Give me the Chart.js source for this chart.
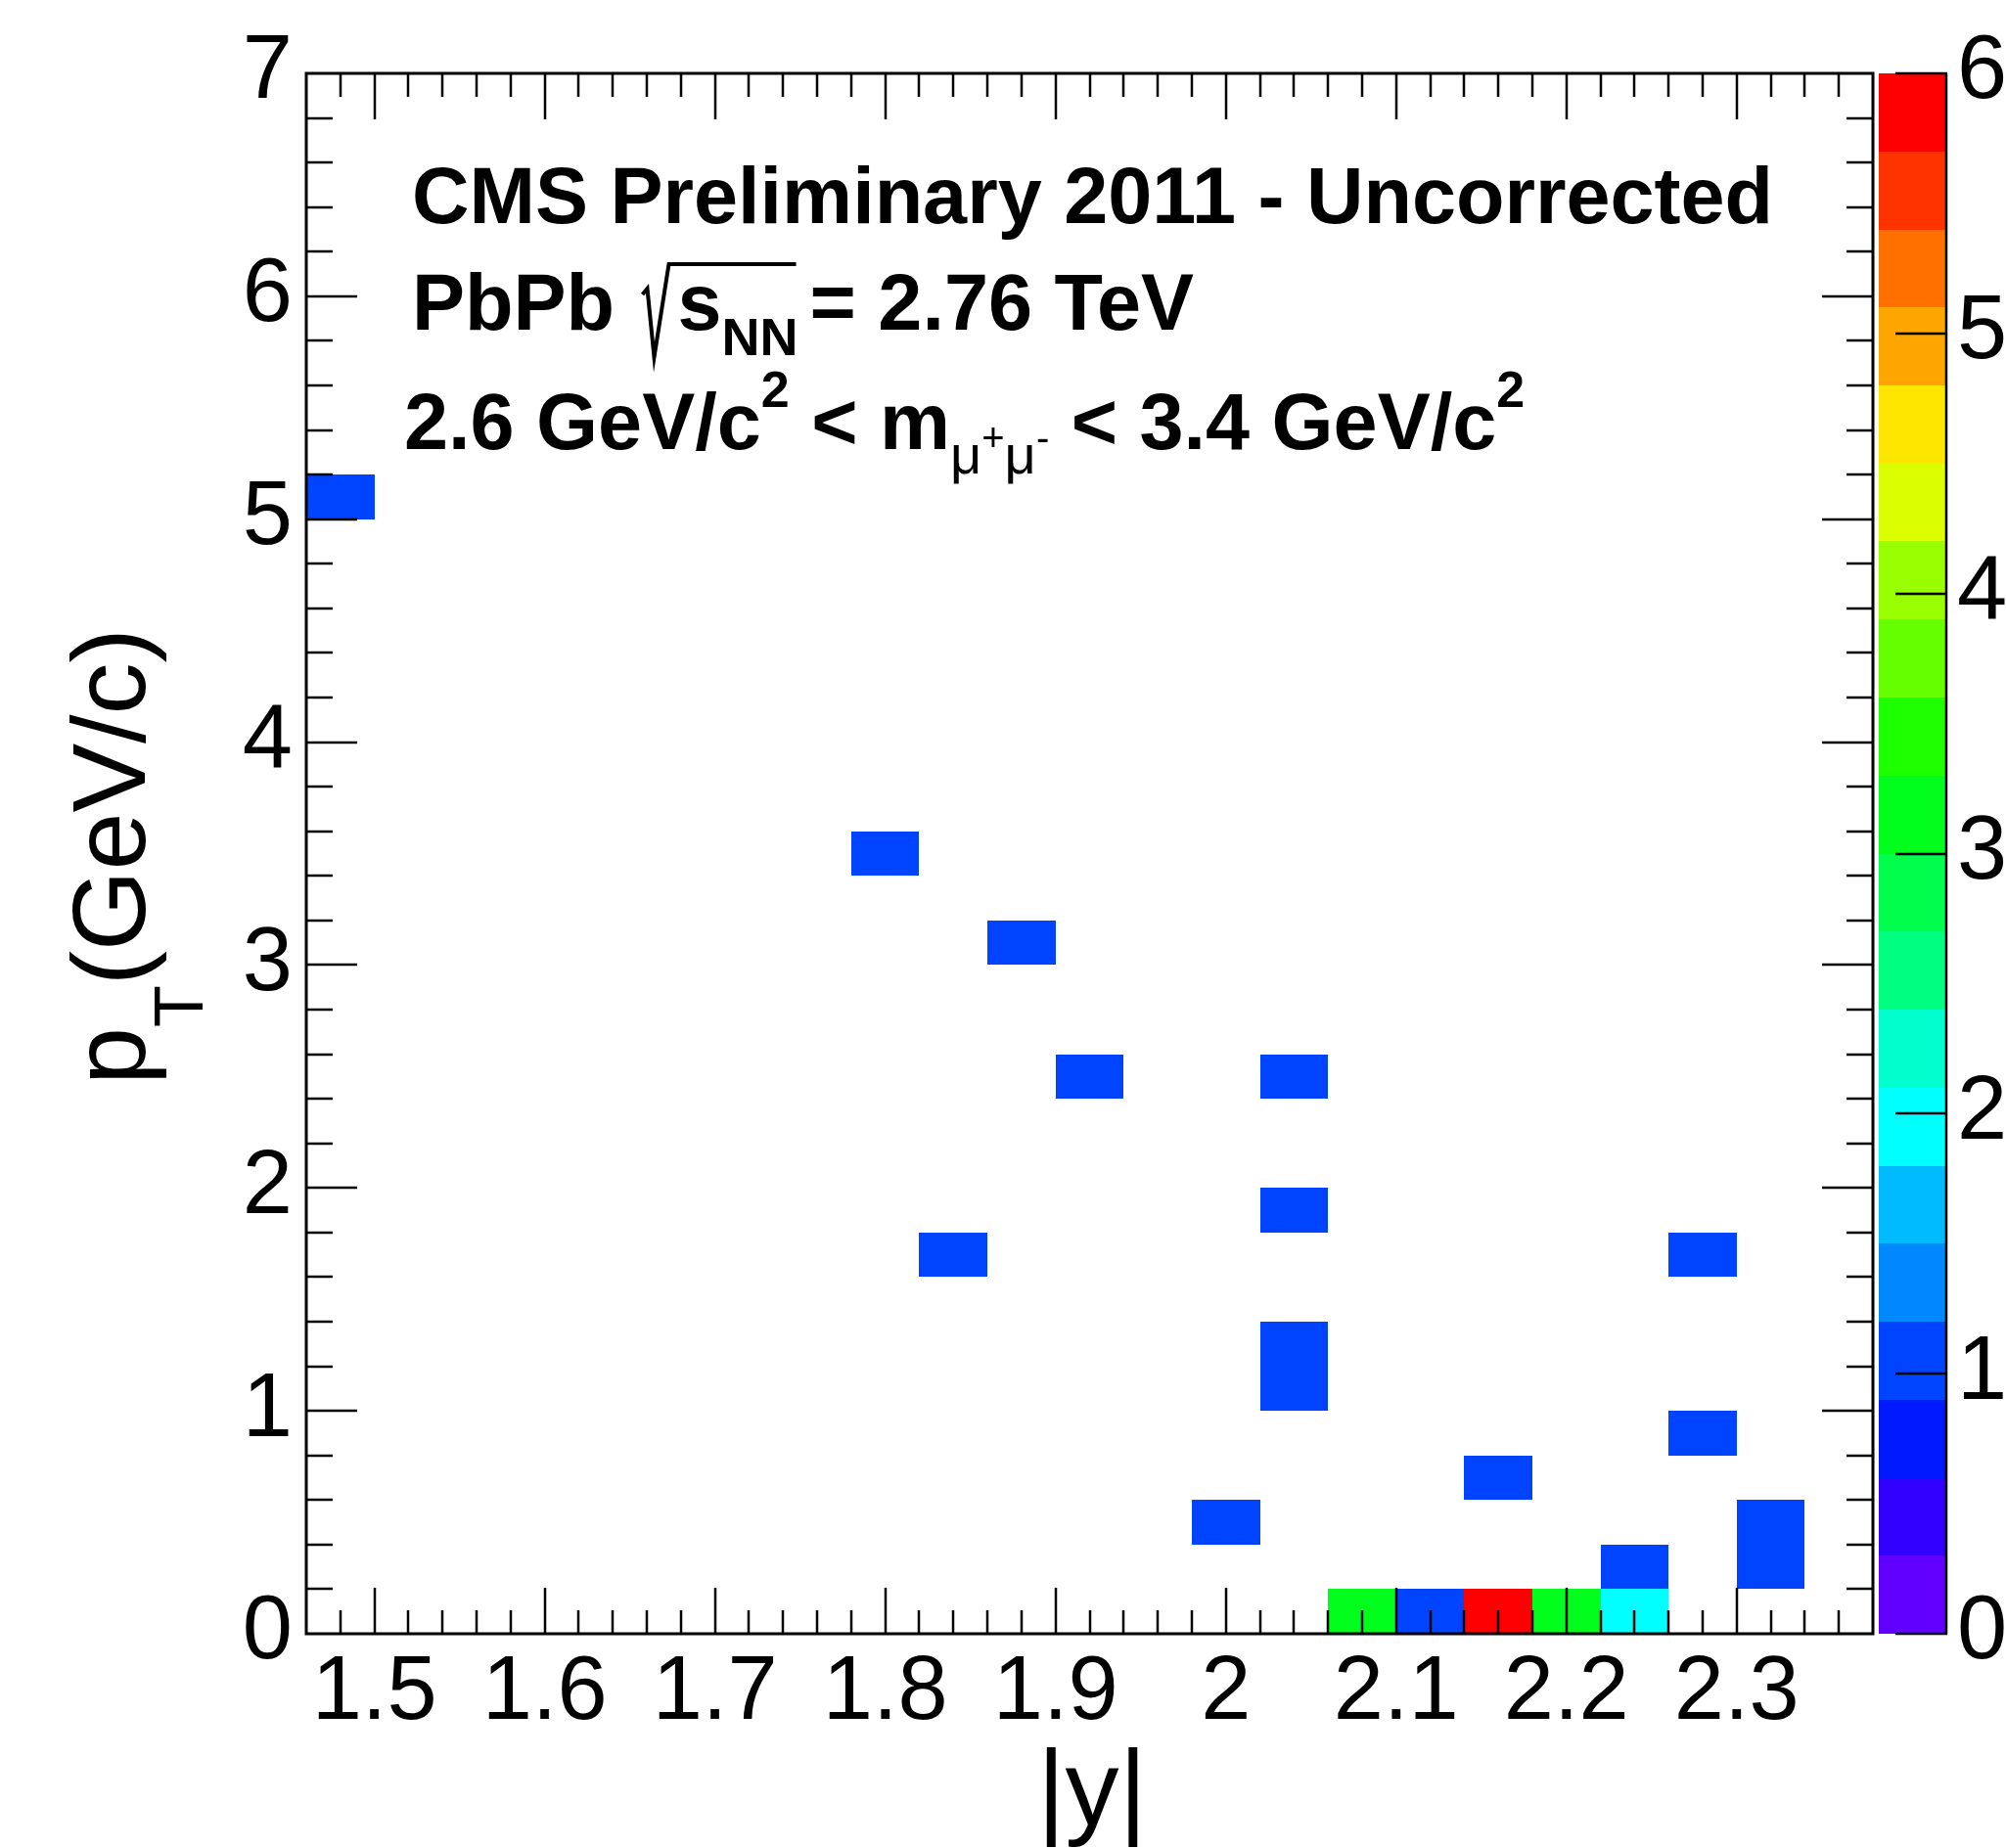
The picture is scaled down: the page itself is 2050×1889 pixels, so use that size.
<!DOCTYPE html>
<html>
<head>
<meta charset="utf-8">
<title>CMS Preliminary 2011 - pT vs |y|</title>
<script src="https://cdn.jsdelivr.net/npm/chart.js@4.4.1/dist/chart.umd.min.js"></script>
<style>
  html, body { margin: 0; padding: 0; background: #fff; }
  #wrap { width: 2050px; height: 1889px; }
</style>
</head>
<body>
<div id="wrap"><canvas id="hist2d" width="2050" height="1889"></canvas></div>
<script>
// ==================== DATA ====================
// filled bins of the 2D histogram: lower |y| edge, lower pT edge, entries
const cellAbsY  = [1.46, 1.78, 1.82, 1.86, 1.90, 1.98, 2.02, 2.02, 2.02, 2.02, 2.02, 2.06, 2.10, 2.14, 2.14, 2.18, 2.22, 2.22, 2.26, 2.26, 2.30, 2.30];
const cellPt    = [5.0,  3.4,  1.6,  3.0,  2.4,  0.4,  2.4,  1.8,  1.2,  1.0,  0.0,  0.0,  0.0,  0.6,  0.0,  0.0,  0.2,  0.0,  1.6,  0.8,  0.4,  0.2];
const cellCount = [1,    1,    1,    1,    1,    1,    1,    1,    1,    1,    0,    3,    1,    1,    6,    3,    1,    2,    1,    1,    1,    1];
const binWidthAbsY = 0.04;
const binWidthPt = 0.2;

// axis ticks
const xTickValues = [1.5, 1.6, 1.7, 1.8, 1.9, 2.0, 2.1, 2.2, 2.3];
const xTickLabels = ['1.5', '1.6', '1.7', '1.8', '1.9', '2', '2.1', '2.2', '2.3'];
const yTickValues = [0, 1, 2, 3, 4, 5, 6, 7];
const yTickLabels = ['0', '1', '2', '3', '4', '5', '6', '7'];
const zTickValues = [0, 1, 2, 3, 4, 5, 6];
const zTickLabels = ['0', '1', '2', '3', '4', '5', '6'];

// colour palette (20 contours from 0 to 6)
const zMin = 0, zMax = 6;
const paletteColors = [
  '#6200ff', '#3200ff', '#0019ff', '#0044ff', '#0088ff',
  '#00bbff', '#00ffff', '#00ffcc', '#00ff80', '#00ff4c',
  '#00ff1c', '#1eff00', '#66ff00', '#99ff00', '#dcff00',
  '#ffe600', '#ffa500', '#ff7000', '#ff3300', '#ff0000'
];

const FONT = "'Liberation Sans', Arial, Helvetica, sans-serif";
const AREA = { left: 313, top: 75, right: 1914, bottom: 1670 };

function colorFor(v) {
  const step = (zMax - zMin) / paletteColors.length;
  const idx = Math.min(paletteColors.length - 1, Math.floor((v - zMin) / step + 1e-9));
  return paletteColors[Math.max(0, idx)];
}

// keep the frame where it is: no extra room for overhanging labels
function pinScale(s, size) {
  if (s.isHorizontal()) s.height = size; else s.width = size;
  s.paddingTop = 0;
  s.paddingBottom = 0;
  s.paddingLeft = 0;
  s.paddingRight = 0;
}

// ==================== PLUGINS ====================
// histogram cells (COLZ style)
const cellPlugin = {
  id: 'cells',
  beforeDatasetsDraw(chart) {
    const { ctx, scales: { x, y } } = chart;
    ctx.save();
    chart.data.datasets[0].data.forEach(c => {
      if (c.v <= 0) return;
      const x0 = Math.round(x.getPixelForValue(c.x - binWidthAbsY / 2));
      const x1 = Math.round(x.getPixelForValue(c.x + binWidthAbsY / 2));
      const y0 = Math.round(y.getPixelForValue(c.y + binWidthPt / 2));
      const y1 = Math.round(y.getPixelForValue(c.y - binWidthPt / 2));
      ctx.fillStyle = colorFor(c.v);
      ctx.fillRect(x0, y0, x1 - x0, y1 - y0);
    });
    ctx.restore();
  }
};

function line(ctx, x0, y0, x1, y1) {
  ctx.beginPath();
  ctx.moveTo(x0, y0);
  ctx.lineTo(x1, y1);
  ctx.stroke();
}

// ROOT-like frame with inward ticks on all four sides
const framePlugin = {
  id: 'rootFrame',
  afterDatasetsDraw(chart) {
    const { ctx, chartArea: a, scales: { x, y } } = chart;
    ctx.save();
    ctx.strokeStyle = '#000';
    ctx.lineWidth = 2.5;
    for (let k = 73; k <= 119; k++) {
      const v = k / 50;
      if (v <= x.min + 1e-9 || v >= x.max - 1e-9) continue;
      const px = Math.round(x.getPixelForValue(v));
      const len = k % 5 === 0 ? 47 : 24;
      line(ctx, px, a.bottom, px, a.bottom - len);
      line(ctx, px, a.top, px, a.top + len);
    }
    for (let k = 1; k < 35; k++) {
      const py = Math.round(y.getPixelForValue(k / 5));
      const len = k % 5 === 0 ? 52 : 27;
      line(ctx, a.left, py, a.left + len, py);
      line(ctx, a.right, py, a.right - len, py);
    }
    ctx.lineWidth = 3;
    ctx.strokeRect(a.left, a.top, a.right - a.left, a.bottom - a.top);
    ctx.restore();
  }
};

// colour bar on the right
const palettePlugin = {
  id: 'palette',
  afterDraw(chart) {
    const { ctx, chartArea: a, scales: { z } } = chart;
    const bx0 = a.right + 6, bx1 = a.right + 75;
    const step = (zMax - zMin) / paletteColors.length;
    ctx.save();
    paletteColors.forEach((col, i) => {
      const yTop = Math.round(z.getPixelForValue(zMin + (i + 1) * step));
      const yBot = Math.round(z.getPixelForValue(zMin + i * step));
      ctx.fillStyle = col;
      ctx.fillRect(bx0, yTop, bx1 - bx0, yBot - yTop);
    });
    ctx.strokeStyle = '#000';
    ctx.lineWidth = 2.5;
    line(ctx, bx1, a.top, bx1, a.bottom);
    zTickValues.forEach(v => {
      const py = Math.round(z.getPixelForValue(v));
      line(ctx, bx1 - 52, py, bx1 + 1, py);
    });
    ctx.restore();
  }
};

// text with sub/superscripts: parts drawn one after another
function drawRich(ctx, x, baseline, parts) {
  parts.forEach(p => {
    x += p.dx || 0;
    if (p.sqrt) {
      ctx.save();
      ctx.lineWidth = 4;
      ctx.lineJoin = 'miter';
      ctx.beginPath();
      ctx.moveTo(x + 6, baseline - 36);
      ctx.lineTo(x + 11, baseline - 42);
      ctx.lineTo(x + 18, baseline + 28);
      ctx.lineTo(x + 33, baseline - 67);
      ctx.lineTo(x + p.bar, baseline - 67);
      ctx.stroke();
      ctx.restore();
      x += p.adv;
      return;
    }
    ctx.font = `${p.bold ? 'bold ' : ''}${p.size}px ${FONT}`;
    ctx.fillText(p.t, x, baseline + (p.dy || 0));
    x += ctx.measureText(p.t).width;
  });
}

const textPlugin = {
  id: 'rootText',
  afterDraw(chart) {
    const { ctx } = chart;
    ctx.save();
    ctx.fillStyle = '#000';
    ctx.strokeStyle = '#000';
    ctx.textBaseline = 'alphabetic';
    ctx.textAlign = 'left';

    // axis titles
    ctx.font = `110px ${FONT}`;
    ctx.textAlign = 'center';
    ctx.fillText('|y|', 1116, 1865);
    ctx.textAlign = 'left';

    ctx.save();
    ctx.translate(148, 1109);
    ctx.rotate(-Math.PI / 2);
    drawRich(ctx, 0, 0, [
      { t: 'p', size: 106 },
      { t: 'T', size: 70, dy: 59 },
      { t: '(GeV/c)', size: 106 }
    ]);
    ctx.restore();

    // annotation block
    ctx.font = `bold 81px ${FONT}`;
    ctx.fillText('CMS Preliminary 2011 - Uncorrected', 421, 228);

    drawRich(ctx, 421, 337, [
      { t: 'PbPb ', size: 81, bold: true },
      { sqrt: true, adv: 42, bar: 163 },
      { t: 's', size: 81, bold: true },
      { t: 'NN', size: 54, bold: true, dy: 26 },
      { t: '= 2.76 TeV', size: 81, bold: true, dx: 12 }
    ]);

    drawRich(ctx, 413, 459, [
      { t: '2.6 GeV/c', size: 81, bold: true },
      { t: '2', size: 52, bold: true, dy: -43 },
      { t: ' < m', size: 81, bold: true },
      { t: 'μ', size: 56, dy: 25 },
      { t: '+', size: 40, dy: 2 },
      { t: 'μ', size: 56, dy: 25 },
      { t: '-', size: 40, dy: 2 },
      { t: ' < 3.4 GeV/c', size: 81, bold: true },
      { t: '2', size: 52, bold: true, dy: -43 }
    ]);
    ctx.restore();
  }
};

// ==================== CHART ====================
function initHistogram() {
  const el = document.getElementById('hist2d');
  const points = cellAbsY.map((ay, i) => ({
    x: ay + binWidthAbsY / 2,
    y: cellPt[i] + binWidthPt / 2,
    v: cellCount[i]
  }));
  const tickFont = { family: FONT, size: 92 };

  new Chart(el.getContext('2d'), {
    type: 'scatter',
    data: {
      datasets: [{
        label: 'entries',
        data: points,
        pointRadius: 0,
        pointHoverRadius: 0,
        showLine: false
      }]
    },
    options: {
      responsive: false,
      animation: false,
      devicePixelRatio: 1,
      events: [],
      layout: { padding: { top: AREA.top, left: 0, right: 0, bottom: 0 } },
      plugins: { legend: { display: false }, tooltip: { enabled: false } },
      scales: {
        x: {
          type: 'linear', position: 'bottom', min: 1.46, max: 2.38,
          afterBuildTicks: s => { s.ticks = xTickValues.map(v => ({ value: v })); },
          afterFit: s => pinScale(s, 1889 - AREA.bottom),
          grid: { display: false, drawTicks: false },
          border: { display: false },
          ticks: {
            callback: (v, i) => xTickLabels[i],
            font: tickFont, color: '#000', padding: 6,
            maxRotation: 0, minRotation: 0, autoSkip: false
          }
        },
        y: {
          type: 'linear', position: 'left', min: 0, max: 7,
          afterBuildTicks: s => { s.ticks = yTickValues.map(v => ({ value: v })); },
          afterFit: s => pinScale(s, AREA.left),
          grid: { display: false, drawTicks: false },
          border: { display: false },
          ticks: {
            callback: (v, i) => yTickLabels[i],
            font: tickFont, color: '#000', padding: 14, autoSkip: false
          }
        },
        z: {
          type: 'linear', axis: 'y', position: 'right', min: zMin, max: zMax,
          afterBuildTicks: s => { s.ticks = zTickValues.map(v => ({ value: v })); },
          afterFit: s => pinScale(s, 2050 - AREA.right),
          grid: { display: false, drawTicks: false },
          border: { display: false },
          ticks: {
            callback: (v, i) => zTickLabels[i],
            font: tickFont, color: '#000', padding: 86, autoSkip: false
          }
        }
      }
    },
    plugins: [cellPlugin, framePlugin, palettePlugin, textPlugin]
  });
}

document.addEventListener('DOMContentLoaded', initHistogram);
</script>
</body>
</html>
